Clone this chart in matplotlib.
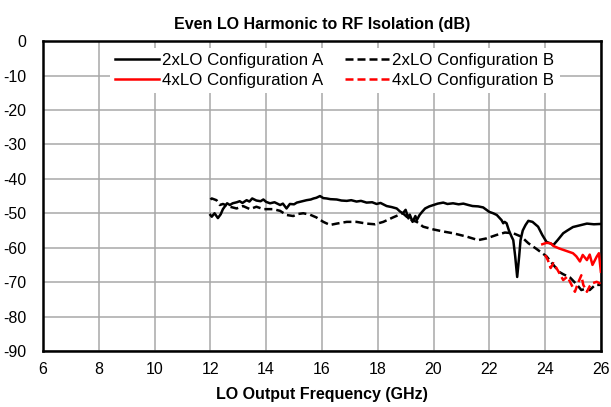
import matplotlib
matplotlib.use('Agg')
import matplotlib.pyplot as plt

# 2xLO Configuration A (solid black)
freq_2a = [12.0, 12.05, 12.15, 12.27, 12.37, 12.45, 12.6, 12.7, 12.8, 12.95,
           13.05, 13.15, 13.3, 13.4, 13.5, 13.65, 13.8, 13.9, 14.0, 14.14,
           14.3, 14.5, 14.6, 14.73, 14.85, 15.0, 15.1, 15.25, 15.45, 15.6,
           15.7, 15.8, 15.93, 16.05, 16.17, 16.3, 16.53, 16.7, 16.89, 17.05,
           17.24, 17.4, 17.6, 17.8, 17.96, 18.1, 18.32, 18.5, 18.68, 18.8,
           18.9, 19.0, 19.1, 19.15, 19.25, 19.35, 19.4, 19.5, 19.6, 19.7,
           19.85, 20.0, 20.15, 20.35, 20.5, 20.7, 20.9, 21.07, 21.25, 21.4,
           21.6, 21.78, 22.0, 22.14, 22.27, 22.44, 22.5, 22.55, 22.62, 22.7,
           22.8, 22.86, 22.93, 23.0, 23.07, 23.12, 23.2, 23.3, 23.4, 23.55,
           23.75, 23.9, 24.05, 24.2, 24.3, 24.45, 24.65, 24.8, 25.0, 25.2,
           25.5, 25.75, 26.0]
iso_2a = [-50.5, -51.0, -50.0, -51.4, -50.3, -48.8, -47.1, -47.6, -47.1, -46.8,
          -46.5, -47.0, -46.2, -46.6, -45.7, -46.3, -46.5, -46.0, -46.7, -47.1,
          -46.8, -47.6, -47.2, -48.6, -47.3, -47.4, -46.9, -46.6, -46.2, -46.0,
          -45.7, -45.5, -45.0, -45.6, -45.7, -45.9, -46.0, -46.3, -46.4, -46.2,
          -46.6, -46.4, -46.9, -46.8, -47.3, -47.0, -47.9, -48.2, -48.6, -49.5,
          -50.0, -49.0, -51.5, -50.4, -52.5, -50.8, -52.0, -50.5, -49.5, -48.6,
          -48.0, -47.6, -47.2, -46.9, -47.3, -47.1, -47.4, -47.2, -47.6, -47.9,
          -48.0, -48.3, -49.6, -50.0, -50.5, -52.0, -52.9, -52.5, -52.9, -54.9,
          -56.8, -57.8, -62.6, -68.5, -62.6, -57.8, -55.0, -53.4, -52.2, -52.5,
          -53.9, -56.3, -58.3, -58.8, -59.2, -57.8, -55.8, -55.0, -54.0, -53.6,
          -53.0, -53.2, -53.1]

# 2xLO Configuration B (dashed black)
freq_2b = [12.0, 12.05, 12.22, 12.34, 12.45, 12.7, 12.94, 13.17, 13.42, 13.65,
           13.9, 14.25, 14.5, 14.73, 14.97, 15.15, 15.33, 15.57, 15.8, 16.05,
           16.29, 16.53, 16.89, 17.24, 17.6, 17.9, 18.2, 18.55, 18.9, 19.15,
           19.4, 19.63, 20.0, 20.35, 20.7, 21.2, 21.6, 21.9, 22.26, 22.56,
           22.86, 23.15, 23.4, 23.7, 24.05, 24.3, 24.5, 24.65, 24.9, 25.15,
           25.3, 25.5, 25.6, 25.8, 26.0]
iso_2b = [-46.0, -45.7, -46.2, -47.6, -47.3, -48.1, -48.6, -47.9, -48.8, -48.1,
          -48.8, -48.8, -49.3, -50.5, -50.8, -50.2, -50.0, -50.4, -51.2, -52.5,
          -53.4, -53.0, -52.5, -52.5, -53.0, -53.2, -52.5, -51.2, -50.0, -51.8,
          -52.5, -53.9, -54.7, -55.3, -55.8, -56.8, -57.8, -57.3, -56.3, -55.6,
          -55.8, -56.8, -58.7, -60.4, -62.5, -65.0, -67.0, -67.7, -68.7, -70.8,
          -72.3, -71.8, -72.3, -70.8, -70.8]

# 4xLO Configuration A (solid red)
freq_4a = [23.9, 24.05, 24.2, 24.3, 24.5, 24.75, 25.0, 25.12, 25.25, 25.35,
           25.5, 25.6, 25.7, 25.85, 25.93, 26.0]
iso_4a = [-59.0, -58.6, -58.7, -59.5, -60.2, -60.9, -61.6, -62.5, -64.0, -62.1,
          -63.6, -62.0, -65.0, -62.6, -61.6, -67.0]

# 4xLO Configuration B (dashed red)
freq_4b = [24.0, 24.1, 24.2, 24.3, 24.45, 24.65, 24.8, 24.95, 25.07, 25.18,
           25.3, 25.37, 25.5, 25.6, 25.7, 25.85, 25.95, 26.0]
iso_4b = [-62.1, -63.6, -65.9, -64.5, -66.5, -69.4, -68.4, -70.8, -72.8, -70.3,
          -68.0, -70.8, -72.8, -71.2, -70.3, -69.9, -70.3, -70.8]

x_ticks = list(range(6, 27, 2))
y_ticks = list(range(-90, 1, 10))

plt.rcParams['font.family'] = ['Liberation Sans', 'DejaVu Sans']
plt.rcParams['axes.unicode_minus'] = False

fig = plt.figure(figsize=(6.11, 4.07), dpi=100)
ax = fig.add_axes([0.0704, 0.1376, 0.913, 0.7614])

dash = (0, (3.2, 1.6))
l2a, = ax.plot(freq_2a, iso_2a, color='black', lw=1.8, label='2xLO Configuration A', zorder=3)
l2b, = ax.plot(freq_2b, iso_2b, color='black', lw=1.8, linestyle=dash, label='2xLO Configuration B', zorder=3)
l4a, = ax.plot(freq_4a, iso_4a, color='red', lw=1.8, label='4xLO Configuration A', zorder=3)
l4b, = ax.plot(freq_4b, iso_4b, color='red', lw=1.8, linestyle=dash, label='4xLO Configuration B', zorder=3)

ax.set_xlim(6, 26)
ax.set_ylim(-90, 0)
ax.set_xticks(x_ticks)
ax.set_yticks(y_ticks)
ax.tick_params(length=0, labelsize=11.5)
ax.tick_params(axis='y', pad=12)
ax.tick_params(axis='x', pad=8)
ax.grid(True, color='#a8a8a8', lw=1.1)
ax.set_axisbelow(True)
for s in ax.spines.values():
    s.set_linewidth(1.8)

ax.set_title('Even LO Harmonic to RF Isolation (dB)', fontsize=11.5, fontweight='bold', pad=9)
ax.set_xlabel('LO Output Frequency (GHz)', fontsize=11.5, fontweight='bold', labelpad=7)

# volgorde zo dat rij 1 = 2xLO, rij 2 = 4xLO
leg = ax.legend([l2a, l4a, l2b, l4b],
                [l2a.get_label(), l4a.get_label(), l2b.get_label(), l4b.get_label()],
                loc='upper center', bbox_to_anchor=(0.523, 1.005), ncol=2, fontsize=12.2,
                frameon=True, fancybox=False, handlelength=2.6, handletextpad=0.2,
                columnspacing=1.25, borderpad=0.3, labelspacing=0.3)
leg.get_frame().set_facecolor('white')
leg.get_frame().set_edgecolor('none')
leg.get_frame().set_alpha(1.0)

fig.savefig('out.png', dpi=100)
